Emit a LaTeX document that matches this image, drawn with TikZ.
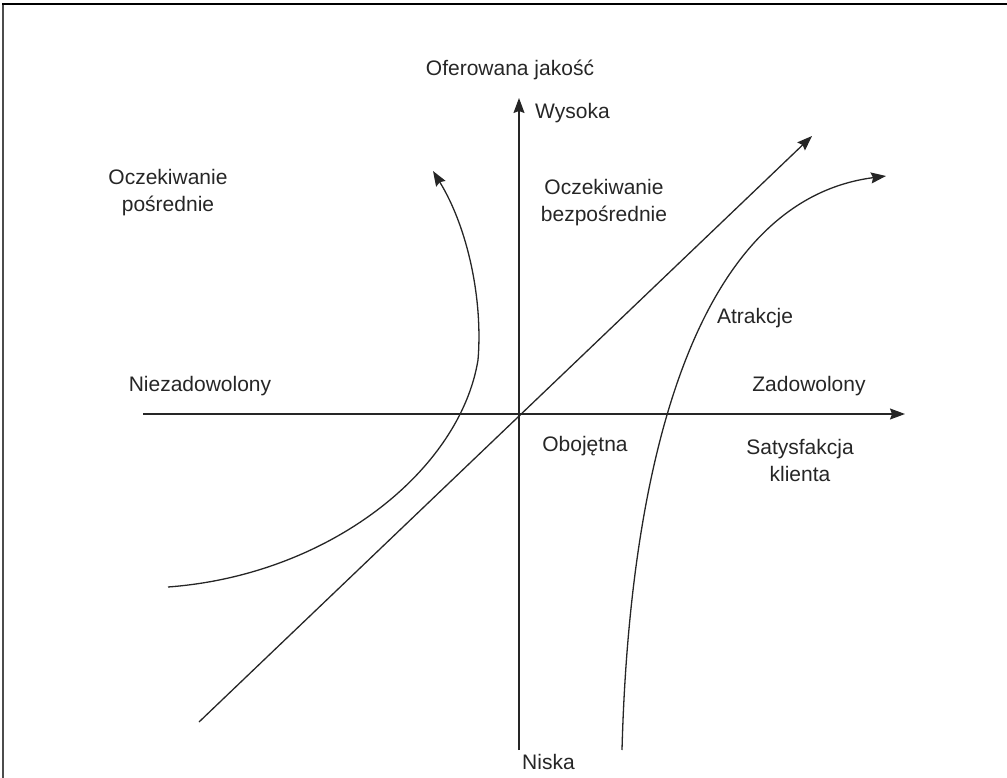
\documentclass[tikz,border=0pt]{standalone}
\usepackage{fontspec}
\setmainfont{Liberation Sans}
\usetikzlibrary{arrows.meta}
\begin{document}
\begin{tikzpicture}[x=1pt,y=-1pt,
  axis/.style={line width=1.3pt,draw=black!85},
  curve/.style={line width=1.3pt,draw=black!85},
  tip/.style={-{Stealth[length=15pt,width=11pt,inset=2pt]}},
  lbl/.style={inner sep=0pt,font=\fontsize{21}{27}\selectfont,text=black!85,align=center}]
  \useasboundingbox (0,0) rectangle (1007,778);
  % frame (top and left edges)
  \draw[line width=1.4pt,draw=black!70] (3,778) -- (3,4);
  \draw[line width=1.4pt] (2.3,4) -- (1007,4);

  % axes
  \coordinate (O) at (519,414);
  \coordinate (xL) at (143,414);
  \coordinate (xR) at (905,414);
  \coordinate (yT) at (519,98);
  \coordinate (yB) at (519,750);
  \draw[axis,tip] (xL) -- (xR);
  \draw[axis,tip] (yB) -- (yT);

  % diagonal line through the origin
  \coordinate (dA) at (199,722);
  \coordinate (dB) at (812,136);
  \draw[curve,tip] (dA) -- (dB);

  % indirect expectation curve
  \coordinate (pA) at (168,587);
  \coordinate (pM) at (478,360);
  \coordinate (pB) at (433,171);
  \draw[curve,tip] (pA) .. controls (330,575) and (460,470) .. (pM)
                        .. controls (483,300) and (468,228) .. (pB);

  % attraction curve
  \coordinate (aA) at (622,750);
  \coordinate (aB) at (886,176);
  \draw[curve,tip] (aA) .. controls (630,450) and (700,200) .. (aB);

  % labels
  \node[lbl] (ofq) at (510,70) {Oferowana jakość};
  \node[lbl,anchor=west] (hi) at (535,113) {Wysoka};
  \node[lbl] (oczb) at (604,203) {Oczekiwanie\\bezpośrednie};
  \node[lbl] (oczp) at (168,193) {Oczekiwanie\\pośrednie};
  \node[lbl] (neg) at (200,386) {Niezadowolony};
  \node[lbl] (pos) at (809,386) {Zadowolony};
  \node[lbl] (neu) at (585,446) {Obojętna};
  \node[lbl] (sat) at (800,460) {Satysfakcja\\klienta};
  \node[lbl] (atr) at (755,318) {Atrakcje};
  \node[lbl,anchor=west] (lo) at (522,762) {Niska};
\end{tikzpicture}
\end{document}
